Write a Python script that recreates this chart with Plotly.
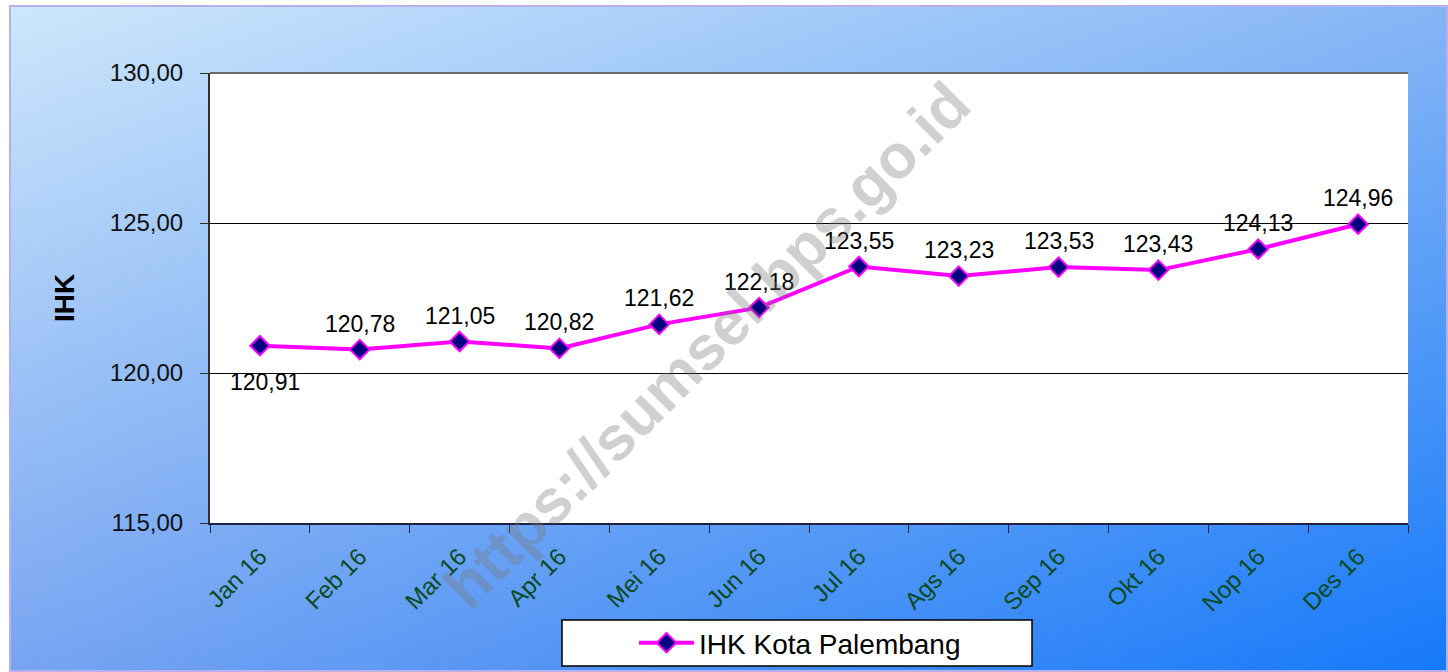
import zlib, struct, base64
import numpy as np
import plotly.graph_objects as go

months = ["Jan 16", "Feb 16", "Mar 16", "Apr 16", "Mei 16", "Jun 16",
          "Jul 16", "Ags 16", "Sep 16", "Okt 16", "Nop 16", "Des 16"]
ihk = [120.91, 120.78, 121.05, 120.82, 121.62, 122.18,
       123.55, 123.23, 123.53, 123.43, 124.13, 124.96]
labels = [f"{v:.2f}".replace(".", ",") for v in ihk]
label_below = [True] + [False] * 11
y_ticks = [115, 120, 125, 130]
y_tick_text = ["115,00", "120,00", "125,00", "130,00"]


def png_uri(arr):
    h, w, _ = arr.shape
    raw = b"".join(b"\x00" + arr[i].tobytes() for i in range(h))

    def chunk(t, d):
        c = struct.pack(">I", len(d)) + t + d
        return c + struct.pack(">I", zlib.crc32(t + d) & 0xffffffff)

    png = (b"\x89PNG\r\n\x1a\n"
           + chunk(b"IHDR", struct.pack(">IIBBBBB", w, h, 8, 2, 0, 0, 0))
           + chunk(b"IDAT", zlib.compress(raw, 9))
           + chunk(b"IEND", b""))
    return "data:image/png;base64," + base64.b64encode(png).decode()


# background gradient (bilinear between corner colours)
W, H = 360, 168
tl = np.array([205, 232, 252], float)
tr = np.array([135, 182, 246], float)
bl = np.array([120, 165, 242], float)
br = np.array([22, 122, 250], float)
u = np.linspace(0, 1, W)[None, :, None]
v = np.linspace(0, 1, H)[:, None, None]
grad = (1 - u) * (1 - v) * tl + u * (1 - v) * tr + (1 - u) * v * bl + u * v * br
grad = np.clip(grad, 0, 255).astype(np.uint8)
bg_uri = png_uri(grad)

L, R, T, B = 210, 40, 73, 149
PW, PH = 1448 - L - R, 672 - T - B


def px(xp):
    return (xp - L) / PW


def py(yp):
    return 1 - (yp - T) / PH


FONT = "Liberation Sans, Arial, sans-serif"

fig = go.Figure()
fig.add_trace(go.Scatter(
    x=months, y=ihk, mode="lines+markers",
    name="IHK Kota Palembang",
    line=dict(color="#FF00FF", width=4),
    marker=dict(symbol="diamond", size=15, color="#000080",
                line=dict(color="#FF00FF", width=2)),
    cliponaxis=False,
))

annotations = []
for m, v_, t, below in zip(months, ihk, labels, label_below):
    annotations.append(dict(
        x=m, y=v_, xref="x", yref="y", text=t, showarrow=False,
        yshift=-36 if below else 26, xshift=5 if below else 0,
        font=dict(family=FONT, size=23, color="#000000")))

annotations.append(dict(text="<b>https://sumsel.bps.go.id</b>", xref="paper", yref="paper",
                        x=px(706), y=py(345), showarrow=False, textangle=-45,
                        font=dict(family=FONT, size=62, color="rgba(120,120,120,0.35)")))

fig.update_layout(
    width=1448, height=672,
    margin=dict(l=L, r=R, t=T, b=B, autoexpand=False),
    paper_bgcolor="white",
    plot_bgcolor="white",
    font=dict(family=FONT, color="#000000"),
    showlegend=True,
    legend=dict(
        orientation="h", x=px(800), y=py(643), xanchor="center", yanchor="middle",
        bgcolor="rgba(0,0,0,0)", borderwidth=0,
        font=dict(size=28, color="#000000"), itemwidth=55,
    ),
    images=[dict(source=bg_uri, xref="paper", yref="paper",
                 x=px(10), y=py(6), sizex=1438 / PW, sizey=666 / PH,
                 xanchor="left", yanchor="top", sizing="stretch", layer="below")],
    shapes=[dict(type="rect", xref="paper", yref="paper",
                 x0=0, x1=1, y0=0, y1=1, fillcolor="white",
                 line=dict(width=0), layer="below"),
            dict(type="rect", xref="paper", yref="paper",
                 x0=px(562), x1=px(1032), y0=py(666), y1=py(620), fillcolor="white",
                 line=dict(color="#000000", width=1.5), layer="below"),
            dict(type="rect", xref="paper", yref="paper",
                 x0=px(10), x1=px(1447), y0=py(671), y1=py(6),
                 line=dict(color="#b8b0ec", width=2), layer="below"),
            dict(type="line", xref="paper", yref="paper",
                 x0=0, x1=1, y0=1, y1=1, line=dict(color="#6a6a6a", width=2))],
    annotations=annotations,
)

fig.update_xaxes(
    type="category", tickson="boundaries", ticks="outside", ticklen=8,
    tickcolor="#202040", showline=True, linecolor="#202040", linewidth=2,
    showgrid=False, tickangle=-45, automargin=False, ticklabelstandoff=8,
    tickfont=dict(family=FONT, size=24, color="#0b4a22"),
    range=[-0.5, 11.5],
)
fig.update_yaxes(
    range=[115, 130], tickvals=y_ticks, ticktext=y_tick_text,
    ticks="outside", ticklen=8, tickcolor="#303030",
    showline=True, linecolor="#303030", linewidth=2,
    showgrid=True, gridcolor="#000000", gridwidth=1,
    zeroline=False, ticklabelstandoff=12, automargin=False,
    tickfont=dict(family=FONT, size=24, color="#111111"),
    title=dict(text="<b>IHK</b>", font=dict(family=FONT, size=28, color="#000000"), standoff=27),
)

fig.write_html("out.html", config={"displayModeBar": False},
               post_script="document.body.style.margin='0';")
